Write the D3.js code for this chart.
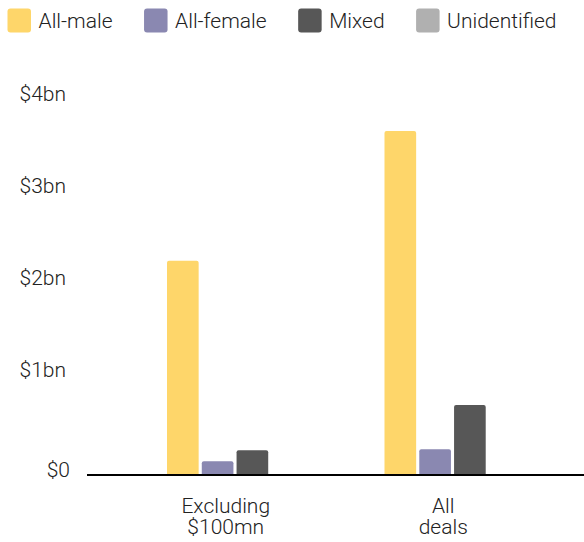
<!DOCTYPE html>
<html><head><meta charset="utf-8">
<script src="https://cdn.jsdelivr.net/npm/d3@7/dist/d3.min.js"></script>
<style>
body{margin:0;background:#fff;}
text{font-family:Roboto,"Noto Sans",sans-serif;font-weight:300;fill:#222;}
</style></head>
<body><svg id="c" width="584" height="542"></svg>
<script>
const groups = ["Excluding\n$100mn", "All\ndeals"];
const series = ["All-male", "All-female", "Mixed", "Unidentified"];
const colors = ["#FED66A", "#8A88B1", "#575757", "#B0B0B0"];
const allMale = [2.33, 3.74];
const allFemale = [0.15, 0.28];
const mixed = [0.27, 0.76];
const unidentified = [0.01, 0.01];
const yTicks = [0, 1, 2, 3, 4];
const yTickLabels = ["$0", "$1bn", "$2bn", "$3bn", "$4bn"];

const values = [allMale, allFemale, mixed, unidentified];
const svg = d3.select("#c");

const y = d3.scaleLinear().domain([0, 4]).range([475, 107]);
const x0 = d3.scaleBand().domain(groups).range([117, 552]);
const x1 = d3.scaleBand().domain(series).range([50, 186]).paddingInner(0.09);
const color = d3.scaleOrdinal().domain(series).range(colors);

// legend
let lx = 7.5;
series.forEach((s) => {
  const g = svg.append("g");
  g.append("rect").attr("x", lx).attr("y", 8.5).attr("width", 23.5).attr("height", 24)
    .attr("rx", 3).attr("fill", color(s));
  const t = g.append("text").attr("x", lx + 31).attr("y", 27.5)
    .attr("font-size", 21).text(s);
  lx += 31 + t.node().getComputedTextLength() + 31.5;
});

// y labels
svg.append("g").selectAll("text").data(yTicks).join("text")
  .attr("x", d => d === 0 ? 70 : 66)
  .attr("y", d => d === 0 ? y(d) + 2 : y(d) - 6.5)
  .attr("text-anchor", "end")
  .attr("font-size", 21)
  .text((d, i) => yTickLabels[i]);

// bars
const r = 2;
groups.forEach((g, gi) => {
  series.forEach((s, si) => {
    const v = values[si][gi];
    const bx = x0(g) + x1(s), bw = x1.bandwidth();
    const top = y(v), bottom = y(0);
    const rr = Math.min(r, (bottom - top) / 2);
    const p = d3.path();
    p.moveTo(bx, bottom);
    p.lineTo(bx, top + rr);
    p.quadraticCurveTo(bx, top, bx + rr, top);
    p.lineTo(bx + bw - rr, top);
    p.quadraticCurveTo(bx + bw, top, bx + bw, top + rr);
    p.lineTo(bx + bw, bottom);
    p.closePath();
    svg.append("path").attr("d", p.toString()).attr("fill", color(s));
  });
});

// baseline
svg.append("line").attr("x1", 87).attr("x2", 584).attr("y1", y(0)).attr("y2", y(0))
  .attr("stroke", "#000").attr("stroke-width", 2);

// x labels
groups.forEach(g => {
  const lines = g.split("\n");
  const t = svg.append("text").attr("text-anchor", "middle").attr("font-size", 21);
  lines.forEach((l, i) => {
    t.append("tspan").attr("x", x0(g) + x0.bandwidth() / 2).attr("y", 512.5 + i * 21).text(l);
  });
});
</script></body></html>
